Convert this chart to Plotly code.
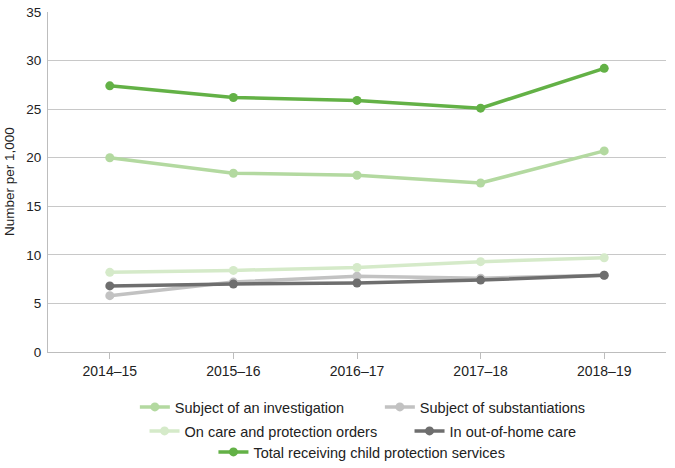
import plotly.graph_objects as go

years = ["2014–15", "2015–16", "2016–17", "2017–18", "2018–19"]
investigation = [20.0, 18.4, 18.2, 17.4, 20.7]
substantiations = [5.8, 7.2, 7.8, 7.6, 7.9]
care_orders = [8.2, 8.4, 8.7, 9.3, 9.7]
out_of_home = [6.8, 7.0, 7.1, 7.4, 7.9]
total = [27.4, 26.2, 25.9, 25.1, 29.2]

series = [
    ("Subject of an investigation", investigation, "#b3d9a0", "legend"),
    ("Subject of substantiations", substantiations, "#c2c2c2", "legend"),
    ("On care and protection orders", care_orders, "#d5eac9", "legend2"),
    ("In out-of-home care", out_of_home, "#6e6e6e", "legend2"),
    ("Total receiving child protection services", total, "#63b146", "legend3"),
]

fig = go.Figure()
for name, vals, color, leg in series:
    fig.add_trace(go.Scatter(
        x=years, y=vals, name=name, mode="lines+markers",
        line=dict(color=color, width=3.5),
        marker=dict(color=color, size=9),
        legend=leg,
    ))

FAM = "Liberation Sans, Arial, sans-serif"
font = dict(family=FAM, size=14, color="#222222")
lfont = dict(family=FAM, size=14.5, color="#222222")
yfont = dict(family=FAM, size=13.5, color="#222222")

# plot area at pixel rows 12..352 (height 340)
def py(px):
    return (352 - px) / 340

legcommon = dict(orientation="h", xanchor="center",
                 yanchor="middle", font=lfont, bgcolor="rgba(0,0,0,0)",
                 itemwidth=30, tracegroupgap=0)

fig.update_layout(
    width=675, height=468,
    margin=dict(l=48, r=9, t=12, b=116, autoexpand=False),
    paper_bgcolor="white", plot_bgcolor="white",
    font=font,
    showlegend=True,
    legend=dict(**legcommon, x=0.537, y=py(407), entrywidth=200),
    legend2=dict(**legcommon, x=0.585, y=py(431), entrywidth=220),
    legend3=dict(**legcommon, x=0.508, y=py(452)),
    xaxis=dict(
        type="category", range=[-0.5, len(years) - 0.5],
        showgrid=False, showline=True, linecolor="#bdbdbd",
        linewidth=1, ticks="outside", ticklen=6, tickcolor="#bdbdbd",
        tickfont=font, zeroline=False, automargin=False,
    ),
    yaxis=dict(
        range=[0, 35], dtick=5, showgrid=True, gridcolor="#c8c8c8", gridwidth=1,
        showline=True, linecolor="#bdbdbd", linewidth=1, zeroline=False,
        ticks="", tickfont=yfont, ticklabelstandoff=3, automargin=False,
        ticklabeloverflow="allow",
    ),
    annotations=[dict(
        text="Number per 1,000", textangle=-90, showarrow=False,
        xref="paper", yref="paper", x=0, y=0.5, xanchor="center",
        yanchor="middle", xshift=-39, font=yfont,
    )],
)

fig.write_html("out.html", config={"displayModeBar": False},
               post_script="document.body.style.margin='0';")
